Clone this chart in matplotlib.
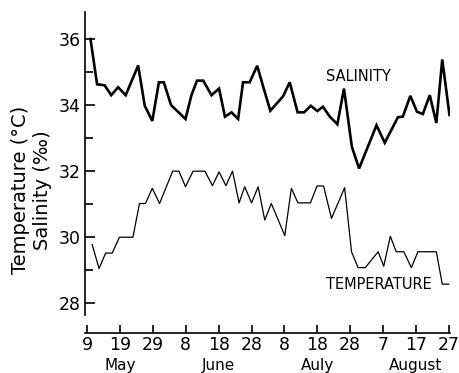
import matplotlib
matplotlib.use("Agg")
import matplotlib.pyplot as plt
from matplotlib.ticker import MultipleLocator

# days after 9 May
sal_days = [1.0, 3.0, 5.3, 7.3, 9.4, 11.7, 15.5, 17.5, 19.8, 21.8, 23.3, 25.5, 29.9,
            31.7, 33.4, 35.3, 37.8, 40.1, 41.9, 43.9, 45.9, 47.4, 49.4, 51.7, 53.7,
            55.7, 59.6, 61.6, 64.0, 66.0, 68.0, 70.0, 71.7, 73.8, 76.1, 78.1, 80.5,
            82.7, 88.0, 90.5, 94.5, 96.0, 98.3, 100.3, 102.1, 104.2, 106.2, 108.0, 110.2]
salinity = [36.0, 34.63, 34.6, 34.3, 34.54, 34.3, 35.2, 33.98, 33.52, 34.69, 34.69, 34.0, 33.58,
            34.3, 34.74, 34.74, 34.3, 34.5, 33.65, 33.78, 33.58, 34.69, 34.69, 35.19, 34.5,
            33.83, 34.27, 34.69, 33.78, 33.78, 33.98, 33.82, 33.95, 33.65, 33.42, 34.5, 32.74,
            32.08, 33.39, 32.86, 33.63, 33.65, 34.28, 33.8, 33.73, 34.3, 33.46, 35.38, 33.7]

temp_days = [1.5, 3.6, 5.6, 7.6, 9.8, 13.9, 15.9, 17.7, 19.8, 22.0, 26.0, 27.9, 29.9,
             32.2, 35.8, 38.1, 40.1, 42.2, 44.2, 46.2, 47.9, 50.0, 52.0, 54.0, 56.0,
             60.1, 62.1, 64.1, 67.9, 69.9, 71.9, 74.3, 78.3, 80.4, 82.4, 84.6, 88.5,
             90.2, 92.2, 94.0, 96.3, 98.6, 100.6, 106.2, 108.0, 110.0]
temperature = [29.78, 29.05, 29.52, 29.52, 30.0, 30.0, 31.02, 31.02, 31.48, 31.02, 32.0, 32.0, 31.53,
               32.0, 32.0, 31.56, 31.98, 31.56, 32.0, 31.04, 31.53, 31.04, 31.53, 30.52, 31.02,
               30.05, 31.48, 31.04, 31.04, 31.55, 31.55, 30.57, 31.5, 29.56, 29.08, 29.08, 29.56,
               29.12, 30.03, 29.56, 29.56, 29.08, 29.56, 29.56, 28.58, 28.58]

tick_days = [0, 10, 20, 30, 40, 50, 60, 70, 80, 90, 100, 110]
tick_labels = ["9", "19", "29", "8", "18", "28", "8", "18", "28", "7", "17", "27"]
month_days = [10, 40, 70, 100]
month_labels = ["May", "June", "Auly", "August"]
y_ticks = [28, 30, 32, 34, 36]

plt.rcParams['font.family'] = ['DejaVu Sans']

fig = plt.figure(figsize=(4.59, 3.73), dpi=100)
ax = fig.add_axes([0.185, 0.155, 0.795, 0.813])

ax.plot(sal_days, salinity, color='black', lw=1.9, solid_joinstyle='miter')
ax.plot(temp_days, temperature, color='black', lw=0.9)

ax.set_xlim(-0.7, 110.3)
ax.set_ylim(27.64, 36.82)

ax.spines['top'].set_visible(False)
ax.spines['right'].set_visible(False)
ax.spines['bottom'].set_position(('outward', 13))
ax.spines['left'].set_linewidth(1.2)
ax.spines['bottom'].set_linewidth(1.2)

ax.set_xticks(tick_days)
ax.set_xticklabels(tick_labels)
ax.set_yticks(y_ticks)
ax.yaxis.set_minor_locator(MultipleLocator(1))
ax.tick_params(axis='both', which='both', direction='in', width=1.2, labelsize=12.5, colors='black')
ax.tick_params(axis='y', which='major', length=7, pad=3)
ax.tick_params(axis='y', which='minor', length=6)
ax.tick_params(axis='x', which='major', length=6, pad=2)

for d, m in zip(month_days, month_labels):
    ax.annotate(m, xy=(d, 0), xycoords=('data', 'axes fraction'), xytext=(0, -30.5),
                textcoords='offset points', ha='center', va='top', fontsize=11)

ax.text(82.5, 34.88, "SALINITY", ha='center', va='center', fontsize=10.5)
ax.text(88.7, 28.56, "TEMPERATURE", ha='center', va='center', fontsize=10.5)

fig.text(0.045, 0.49, "Temperature (°C)", rotation=90, ha='center', va='center', fontsize=14)
fig.text(0.092, 0.49, "Salinity (‰)", rotation=90, ha='center', va='center', fontsize=14)

fig.savefig("out.png", dpi=100)
